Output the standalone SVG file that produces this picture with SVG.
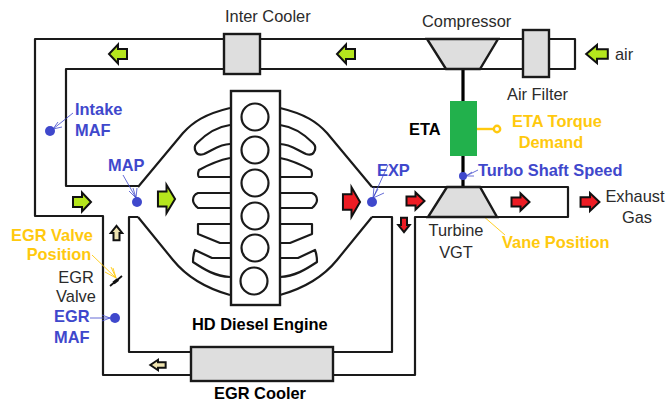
<svg xmlns="http://www.w3.org/2000/svg" width="669" height="403" viewBox="0 0 669 403">
<style>
text{font-family:"Liberation Sans",Arial,sans-serif;font-size:16.4px;fill:#2b2b2b}
.b{font-weight:bold;fill:#000}
.blue{fill:#3f48cc;font-weight:bold}
.yel{fill:#ffc90e;font-weight:bold}
.m{text-anchor:middle}
.pipe{fill:none;stroke:#1a1a1a;stroke-width:2.2;stroke-linejoin:round}
.box{fill:#dedede;stroke:#1a1a1a;stroke-width:2.4}
.arr{stroke:#111;stroke-width:2;stroke-linejoin:miter}
.lime{fill:#b5e61d}.red{fill:#ed1c24}.cream{fill:#efe4b0}
.dot{fill:#3f48cc}
.bl{fill:none;stroke:#3f48cc;stroke-width:.8}
.yl{fill:none;stroke:#ffc90e;stroke-width:.9}
</style>
<defs>
<path id="a" vector-effect="non-scaling-stroke" d="M-9,-5H0V-9.5L9,0L0,9.5V5H-9Z"/>
<g id="half" class="pipe">
<path d="M230,108C205,114 193,122 183,133L138,187"/>
<path d="M138,217L173,260C186,276 205,288 230,295"/>
<path d="M230,125C215,127 205,135 197,143Q193,147 196,152Q198,156 204,154C213,150 220,144 230,144"/>
<path d="M230,158C220,160 208,165 199,170Q197,175 199,177H230"/>
<path d="M230,193H198Q193,195 193,200Q193,204 198,208H230"/>
<path d="M230,224H198V234L220,243H230"/>
<path d="M230,258H212L195,250Q193,255 193,262C205,270 215,276 230,277"/>
</g>
</defs>
<g id="connectors">
<path class="pipe" d="M224,39H35V216H103V375H191"/>
<path class="pipe" d="M224,69H66V186H138"/>
<path class="pipe" d="M138,217H129V352H191"/>
<path class="pipe" d="M260,39H428M260,69H446M498,39H523M480,69H523"/>
<path class="pipe" d="M549,39H575V69H549"/>
<path class="pipe" d="M372,187H447M480,187H568V217H497M372,217H392V352H333M428,217H415V375H333"/>
<use href="#half"/>
<use href="#half" transform="matrix(-1 0 0 1 510 0)"/>
<path d="M463,69V101M463,156V187" fill="none" stroke="#000" stroke-width="3.2"/>
<path class="bl" d="M73,113L53,129M53,129L62,127M53,129L58,122"/>
<path class="bl" d="M123,175L136,198M136,198L133,188M136,198L129,191M136,198L137,188"/>
<path class="bl" d="M388,165L373,198M373,198L384,193M373,198L374,187M373,198L378,189"/>
<path class="bl" d="M478,170L466,176M466,176L474,176M466,176L472,172"/>
<path class="bl" d="M90,318H110M110,318L102,315M110,318L102,321"/>
<path class="yl" d="M92,255L116,278M116,278L111,267M116,278L105,272M116,278L113,268"/>
<path class="yl" d="M505,235L467,202M467,202L476,205M467,202L471,210"/>
<path d="M477,129H494" stroke="#ffc90e" stroke-width="2.4" fill="none"/>
<circle cx="497" cy="129" r="3.2" fill="#fff" stroke="#ffc90e" stroke-width="2.4"/>
<path d="M110,286L122,276" stroke="#111" stroke-width="1.8"/>
<path d="M113.500,283L118,279.500" stroke="#111" stroke-width="3.400"/>
<path d="M455,209L468,199" stroke="#111" stroke-width="1.800"/>
<path d="M458,206.500L463,203" stroke="#111" stroke-width="3.400"/>
</g>
<g id="arrows">
<use href="#a" class="arr lime" transform="translate(118,54) rotate(180)"/>
<use href="#a" class="arr lime" transform="translate(346,54) rotate(180)"/>
<use href="#a" class="arr lime" transform="translate(597,54) rotate(180) scale(1.2,.95)"/>
<use href="#a" class="arr lime" transform="translate(82,202)"/>
<use href="#a" class="arr lime" transform="translate(166.500,199) scale(.95,1.5)"/>
<use href="#a" class="arr red" transform="translate(351.500,202) scale(.95,1.55)"/>
<use href="#a" class="arr red" transform="translate(415.500,201) scale(1,.9)"/>
<use href="#a" class="arr red" transform="translate(520.500,202) scale(1,.9)"/>
<use href="#a" class="arr red" transform="translate(590,202) scale(1.05,.95)"/>
<use href="#a" class="arr red" transform="translate(404,225) rotate(90) scale(.8,.6)"/>
<use href="#a" class="arr cream" transform="translate(116.500,233) rotate(-90) scale(.8,.6)"/>
<use href="#a" class="arr cream" transform="translate(158,365) rotate(180) scale(.85,.55)"/>
</g>
<g id="intercooler"><rect class="box" x="224" y="34" width="36" height="40"/><text x="225" y="22">Inter Cooler</text></g>
<g id="compressor"><path class="box" d="M427,39H498L480,69H446Z"/><text x="422" y="27">Compressor</text></g>
<g id="airfilter"><rect class="box" x="523" y="30" width="26" height="47"/><text x="507" y="100">Air Filter</text></g>
<g id="air"><text x="615" y="60">air</text></g>
<g id="eta"><rect x="450" y="101" width="27" height="55" fill="#22b14c"/><text class="b" x="409" y="135">ETA</text></g>
<g id="etademand"><text class="yel m" x="557" y="127">ETA Torque</text><text class="yel m" x="551" y="148">Demand</text></g>
<g id="turboshaft"><circle class="dot" cx="463" cy="176" r="4"/><text class="blue" x="478" y="176">Turbo Shaft Speed</text></g>
<g id="turbine"><path class="box" d="M447,187H480L497,217H428Z"/><text class="m" x="456" y="236">Turbine</text><text class="m" x="456" y="258">VGT</text></g>
<g id="vane"><text class="yel" x="502" y="248">Vane Position</text></g>
<g id="exhaust"><text class="m" x="635" y="202">Exhaust</text><text class="m" x="637" y="223">Gas</text></g>
<g id="engine"><rect x="231" y="91" width="49" height="214" fill="#fff" stroke="#1a1a1a" stroke-width="2.4"/>
<g fill="none" stroke="#1a1a1a" stroke-width="2.2"><circle cx="255" cy="117" r="13.500"/><circle cx="255" cy="150" r="13.500"/><circle cx="255" cy="183" r="13.500"/><circle cx="255" cy="216" r="13.500"/><circle cx="255" cy="248" r="13.500"/><circle cx="254" cy="281" r="13.500"/></g>
<text class="b" x="192" y="330">HD Diesel Engine</text></g>
<g id="egrcooler"><rect class="box" x="191" y="347" width="142" height="34"/><text class="b m" x="260" y="399">EGR Cooler</text></g>
<g id="intakemaf"><circle class="dot" cx="50" cy="131" r="5"/><text class="blue" x="75" y="115">Intake</text><text class="blue" x="75" y="136">MAF</text></g>
<g id="map"><circle class="dot" cx="137" cy="202" r="5"/><text class="blue" x="108" y="171">MAP</text></g>
<g id="exp"><circle class="dot" cx="372" cy="202" r="5"/><text class="blue" x="377" y="176">EXP</text></g>
<g id="egrvalvepos"><text class="yel m" x="52" y="241">EGR Valve</text><text class="yel m" x="59" y="260">Position</text></g>
<g id="egrvalve"><text class="m" x="76" y="283">EGR</text><text class="m" x="76" y="302">Valve</text></g>
<g id="egrmaf"><text class="blue" x="54" y="322">EGR</text><text class="blue" x="54" y="343">MAF</text><circle class="dot" cx="115" cy="318" r="5"/></g>
</svg>
